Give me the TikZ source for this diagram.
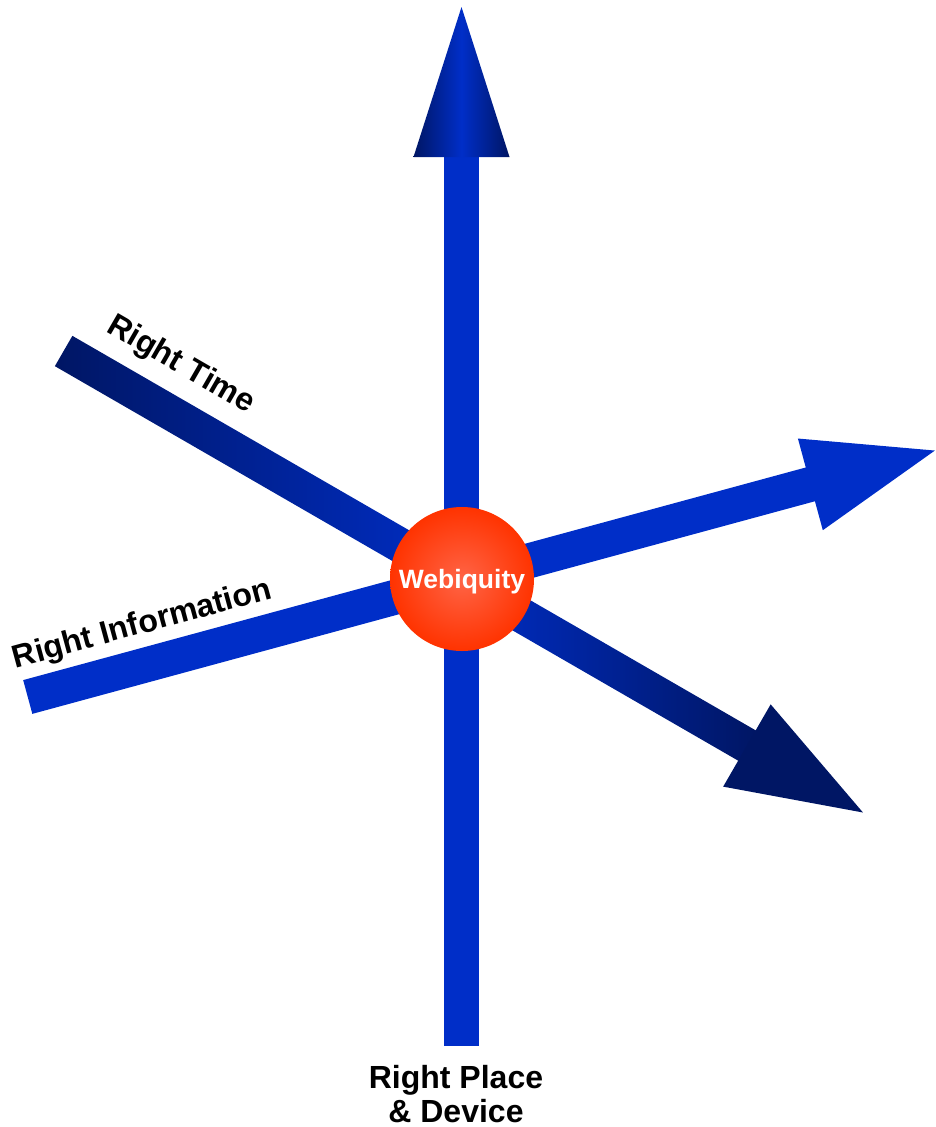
\documentclass[tikz,border=0pt]{standalone}
\usepackage{fontspec}
\setmainfont{Liberation Sans}
\definecolor{axisblue}{RGB}{0,46,200}
\definecolor{axisnavy}{RGB}{0,22,100}
\definecolor{hubred}{RGB}{255,51,0}
\definecolor{hubglow}{RGB}{255,100,70}

\begin{document}
\begin{tikzpicture}[
    x=1pt, y=-1pt,
    axislabel/.style={font=\fontsize{32}{34}\selectfont\bfseries, inner sep=0pt},
    hub/.style={circle, minimum size=144pt, inner sep=0pt, text depth=0pt, inner color=hubglow, outer color=hubred, text=white, font=\fontsize{26.5}{30}\selectfont\bfseries}
]
\useasboundingbox (0,0) rectangle (935,1127);

\coordinate (hubpos) at (462,579);

% Right Place & Device (vertical)
\begin{scope}[shift={(461.5,579)}]
\fill[axisblue] (-17.5,467) rectangle (17.5,-425);
\shade[left color=axisnavy, right color=axisnavy, middle color=axisblue] (-48,-422) -- (0,-572) -- (48,-422) -- cycle;
\end{scope}

% Right Information
\begin{scope}[shift={(hubpos)}, rotate=15.2, transform shape]
\fill[axisblue] (-450,-17.5) rectangle (363,17.5);
\fill[axisblue] (361,-47.5) -- (490,0) -- (361,47.5) -- cycle;
\node[axislabel, anchor=base west] (infolabel) at (-454,-31) {Right Information};
\end{scope}

% Right Time
\begin{scope}[shift={(462,581)}, rotate=-30, transform shape]
\shade[left color=axisnavy, right color=axisblue] (-460,-17.5) rectangle (0,17.5);
\shade[left color=axisblue, right color=axisnavy] (0,-17.5) rectangle (331,17.5);
\fill[axisnavy] (329,-47.5) -- (463,0) -- (329,47.5) -- cycle;
\node[axislabel, anchor=base west] (timelabel) at (-434,-38) {Right Time};
\end{scope}

\node[hub] (hub) at (hubpos) {Webiquity};
\node[axislabel, align=center, anchor=north] (placelabel) at (456,1065) {Right Place\\\& Device};

\end{tikzpicture}
\end{document}
